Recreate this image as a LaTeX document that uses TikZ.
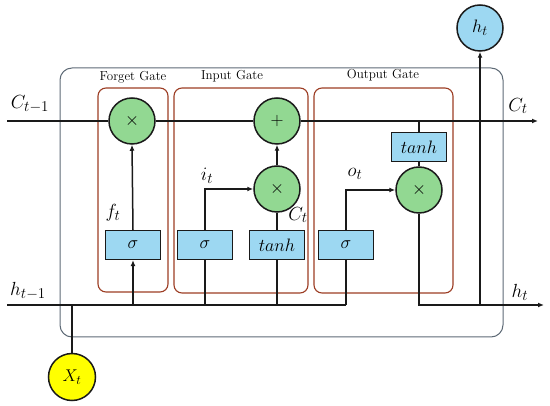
\RequirePackage{fix-cm}
\documentclass[tikz,border=0pt]{standalone}
\usepackage{fontspec}
\usetikzlibrary{arrows.meta}
\DeclareMathSizes{19}{19}{15}{11}
\DeclareMathSizes{18}{18}{14}{10}
\DeclareMathSizes{17}{17}{13}{10}
\definecolor{cgreen}{HTML}{92D892}
\definecolor{cblue}{HTML}{9DD8F2}
\definecolor{cyel}{HTML}{FFFF00}
\definecolor{cbrown}{HTML}{9C3D24}
\definecolor{cgrey}{HTML}{5E6A76}
\definecolor{cline}{HTML}{1A1A1A}
\begin{document}
\begin{tikzpicture}[x=1pt,y=-1pt,
  wire/.style={line width=1.5pt, draw=cline},
  arr/.style={wire, -{Latex[length=6pt,width=5pt]}},
  gcirc/.style={circle, draw=cline, line width=1.5pt, fill=cgreen, minimum size=46, inner sep=0, font=\fontsize{18}{20}\selectfont},
  bcirc/.style={circle, draw=cline, line width=1.5pt, fill=cblue, minimum size=46, inner sep=0, font=\fontsize{18}{20}\selectfont},
  ycirc/.style={circle, draw=cline, line width=1.5pt, fill=cyel, minimum size=47, inner sep=0, font=\fontsize{17}{20}\selectfont},
  bbox/.style={rectangle, draw=cline, line width=1.2pt, fill=cblue, minimum width=55, minimum height=29, inner sep=0, font=\fontsize{18}{20}\selectfont},
  gatebox/.style={rectangle, rounded corners=8pt, draw=cbrown, line width=1.1pt, inner sep=0},
  outerbox/.style={rectangle, rounded corners=12pt, draw=cgrey, line width=1pt, inner sep=0},
  title/.style={font=\fontsize{13}{15}\selectfont, inner sep=0},
  lab/.style={font=\fontsize{19}{21}\selectfont, inner sep=0}
]
\useasboundingbox (0,0) rectangle (550,406);
% outer cell box and gate boxes
\node[outerbox, minimum width=443, minimum height=269] (cell) at (281.5,202.5) {};
\node[gatebox, minimum width=70, minimum height=204] (fg) at (133,190) {};
\node[gatebox, minimum width=134, minimum height=205] (ig) at (241,190.5) {};
\node[gatebox, minimum width=139, minimum height=205] (og) at (383.5,190.5) {};
\node[title] (fgt) at (133,77) {Forget Gate};
\node[title] (igt) at (232,76) {Input Gate};
\node[title] (ogt) at (383,75) {Output Gate};
% coordinates
\coordinate (cin) at (7,121);
\coordinate (cout) at (538,121);
\coordinate (hin) at (7,305);
\coordinate (hout) at (544,305);
% operators
\node[gcirc] (fx) at (132,121) {$\times$};
\node[gcirc] (plus) at (277,121) {$+$};
\node[gcirc] (ix) at (277,189) {$\times$};
\node[gcirc] (ox) at (419,190) {$\times$};
\node[bbox] (fs) at (133,245) {$\sigma$};
\node[bbox] (is) at (205,245) {$\sigma$};
\node[bbox] (it) at (277,245) {$tanh$};
\node[bbox] (os) at (346,245) {$\sigma$};
\node[bbox] (ot) at (419,147) {$tanh$};
\node[ycirc] (xt) at (72,377) {$X_t$};
\node[bcirc] (ht) at (480,28) {$h_t$};
% cell state line
\draw[wire] (cin) -- (fx.west);
\draw[wire] (fx.east) -- (plus.west);
\draw[arr] (plus.east) -- (cout);
% hidden line
\draw[wire] (hin) -- (os.south |- hin);
\draw[wire] (xt.north) -- (xt.north |- hin);
% forget gate
\draw[arr] (fs.south |- hin) -- (fs.south);
\draw[arr] (fs.north) -- (fx.south);
% input gate
\draw[wire] (is.south |- hin) -- (is.south);
\draw[arr] (is.north) |- (ix.west);
\draw[wire] (it.south |- hin) -- (it.south);
\draw[wire] (it.north) -- (ix.south);
\draw[arr] (ix.north) -- (plus.south);
% output gate
\draw[wire] (os.south |- hin) -- (os.south);
\draw[arr] (os.north) |- (ox.west);
\draw[wire] (ot.north |- cin) -- (ot.north);
\draw[wire] (ot.south) -- (ox.north);
\draw[arr] (ox.south) |- (hout);
\draw[arr] (ht.south |- hout) -- (ht.south);
% labels
\node[lab] (lc1) at (30,104) {$C_{t-1}$};
\node[lab] (lc2) at (518,106) {$C_t$};
\node[lab] (lh1) at (28,291) {$h_{t-1}$};
\node[lab] (lh2) at (520,292) {$h_t$};
\node[lab] (lf) at (113,213) {$f_t$};
\node[lab] (li) at (207,176) {$i_t$};
\node[lab] (lo) at (355,174) {$o_t$};
\node[lab] (lct) at (298,215) {$C_t$};
\end{tikzpicture}
\end{document}
